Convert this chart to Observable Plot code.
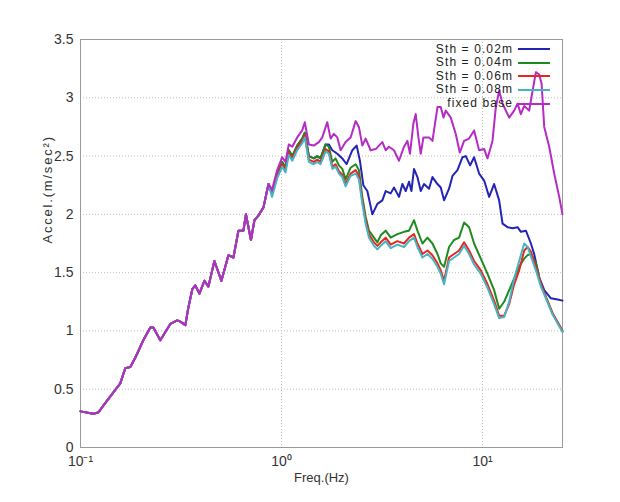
<!DOCTYPE html>
<html><head><meta charset="utf-8">
<script src="https://cdn.jsdelivr.net/npm/d3@7"></script>
<script src="https://cdn.jsdelivr.net/npm/@observablehq/plot@0.6"></script>
<style>
html,body{margin:0;padding:0;background:#fff;}
#wrap{position:relative;width:620px;height:502px;font-family:"Liberation Sans",Arial,sans-serif;}
#legend{position:absolute;left:380px;top:42.5px;width:175px;font-size:12px;letter-spacing:1.1px;color:#222;}
#legend .row{position:relative;height:13.6px;}
#legend .lbl{position:absolute;right:42px;top:0;display:block;height:13.6px;line-height:13.6px;white-space:nowrap;}
#legend .sw{position:absolute;left:138px;width:32px;top:50%;height:0;border-top:2px solid;transform:translateY(-1px);}
</style></head><body><div id="wrap"><div id="legend"></div></div>
<script>
// Shared low-frequency part (all five curves coincide)
const commonFreq = [0.1, 0.1157, 0.1225, 0.1327, 0.1455, 0.1577, 0.167, 0.1769, 0.1873, 0.2053, 0.2225, 0.2303, 0.2495, 0.2798, 0.3032, 0.3139, 0.3323, 0.344, 0.3602, 0.3727, 0.3904, 0.4134, 0.4328, 0.4636, 0.5024, 0.5445, 0.5765, 0.6106, 0.6465, 0.6653, 0.7047, 0.7336, 0.768, 0.8134, 0.8615];
const commonAccel = [0.31, 0.29, 0.30, 0.38, 0.47, 0.55, 0.68, 0.69, 0.77, 0.92, 1.03, 1.03, 0.92, 1.06, 1.09, 1.08, 1.05, 1.20, 1.36, 1.39, 1.32, 1.43, 1.38, 1.60, 1.43, 1.65, 1.63, 1.86, 1.86, 2.00, 1.78, 1.95, 1.99, 2.06, 2.26];

// Sth = 0.04m / 0.06m / 0.08m share a frequency grid
const groupFreq = [0.897, 0.952, 1.008, 1.047, 1.087, 1.131, 1.197, 1.268, 1.306, 1.368, 1.448, 1.506, 1.564, 1.657, 1.721, 1.789, 1.858, 1.930, 2.006, 2.084, 2.207, 2.338, 2.427, 2.524, 2.622, 2.723, 2.884, 2.999, 3.114, 3.298, 3.493, 3.771, 4.068, 4.309, 4.563, 4.745, 5.025, 5.322, 5.636, 5.969, 6.198, 6.437, 6.817, 7.219, 7.646, 8.097, 8.575, 9.082, 9.807, 10.59, 11.42, 12.10, 12.81, 13.57, 14.37, 15.22, 16.12, 16.76, 17.41, 18.43, 19.52, 20.68, 22.32, 24.08, 25];
const sth004 = [2.18, 2.35, 2.45, 2.40, 2.55, 2.50, 2.59, 2.65, 2.70, 2.50, 2.48, 2.50, 2.48, 2.60, 2.58, 2.45, 2.48, 2.42, 2.39, 2.30, 2.40, 2.43, 2.38, 2.15, 1.98, 1.86, 1.80, 1.76, 1.82, 1.86, 1.80, 1.83, 1.85, 1.86, 1.95, 1.86, 1.75, 1.80, 1.75, 1.66, 1.58, 1.55, 1.72, 1.78, 1.80, 1.93, 1.89, 1.75, 1.62, 1.49, 1.35, 1.19, 1.25, 1.35, 1.45, 1.55, 1.62, 1.65, 1.66, 1.58, 1.40, 1.29, 1.15, 1.05, 1.00];
const sth006 = [2.17, 2.33, 2.43, 2.38, 2.53, 2.48, 2.57, 2.63, 2.68, 2.47, 2.45, 2.47, 2.45, 2.56, 2.54, 2.41, 2.43, 2.37, 2.34, 2.26, 2.35, 2.38, 2.33, 2.12, 1.95, 1.83, 1.76, 1.73, 1.76, 1.80, 1.74, 1.77, 1.75, 1.80, 1.83, 1.75, 1.66, 1.69, 1.65, 1.58, 1.52, 1.43, 1.63, 1.66, 1.69, 1.76, 1.69, 1.60, 1.52, 1.40, 1.26, 1.13, 1.13, 1.23, 1.40, 1.52, 1.69, 1.72, 1.68, 1.55, 1.40, 1.29, 1.15, 1.05, 1.00];
const sth008 = [2.15, 2.31, 2.41, 2.36, 2.51, 2.46, 2.55, 2.61, 2.66, 2.45, 2.43, 2.45, 2.43, 2.54, 2.52, 2.39, 2.41, 2.35, 2.32, 2.24, 2.33, 2.35, 2.30, 2.09, 1.92, 1.80, 1.73, 1.70, 1.73, 1.77, 1.71, 1.74, 1.72, 1.77, 1.80, 1.72, 1.63, 1.66, 1.62, 1.55, 1.49, 1.40, 1.60, 1.63, 1.66, 1.73, 1.66, 1.57, 1.49, 1.37, 1.23, 1.11, 1.12, 1.25, 1.45, 1.60, 1.75, 1.72, 1.64, 1.52, 1.38, 1.28, 1.14, 1.04, 0.99];

// Sth = 0.02m
const sth002Freq = [0.897, 0.952, 1.008, 1.047, 1.087, 1.131, 1.197, 1.268, 1.306, 1.368, 1.448, 1.506, 1.564, 1.657, 1.721, 1.789, 1.895, 2.006, 2.108, 2.251, 2.365, 2.455, 2.553, 2.673, 2.831, 2.999, 3.175, 3.298, 3.493, 3.627, 3.841, 3.994, 4.149, 4.309, 4.429, 4.563, 4.745, 4.928, 5.118, 5.420, 5.636, 5.969, 6.198, 6.437, 6.817, 7.088, 7.507, 7.950, 8.257, 8.674, 9.082, 9.618, 10.19, 10.79, 11.42, 12.10, 12.58, 13.32, 14.11, 14.94, 15.52, 16.44, 17.41, 18.07, 19.14, 20.28, 21.89, 23.64, 25];
const sth002 = [2.18, 2.35, 2.45, 2.40, 2.55, 2.50, 2.59, 2.65, 2.70, 2.50, 2.48, 2.50, 2.48, 2.60, 2.60, 2.55, 2.52, 2.48, 2.43, 2.55, 2.59, 2.46, 2.25, 2.20, 2.00, 2.09, 2.12, 2.20, 2.18, 2.23, 2.15, 2.26, 2.20, 2.28, 2.20, 2.39, 2.32, 2.20, 2.26, 2.22, 2.32, 2.26, 2.23, 2.12, 2.22, 2.33, 2.38, 2.49, 2.50, 2.42, 2.49, 2.35, 2.29, 2.15, 2.26, 2.12, 1.92, 1.89, 1.88, 1.89, 1.85, 1.86, 1.75, 1.66, 1.46, 1.35, 1.28, 1.27, 1.26];

// fixed base
const fixedFreq = [0.897, 0.952, 1.008, 1.047, 1.087, 1.131, 1.197, 1.268, 1.306, 1.368, 1.448, 1.534, 1.595, 1.689, 1.755, 1.822, 1.895, 1.968, 2.084, 2.207, 2.338, 2.427, 2.524, 2.622, 2.776, 2.941, 3.054, 3.175, 3.298, 3.425, 3.627, 3.841, 4.068, 4.230, 4.358, 4.531, 4.653, 4.799, 4.928, 5.083, 5.420, 5.636, 5.969, 6.198, 6.393, 6.564, 6.951, 7.362, 7.708, 8.097, 8.575, 9.082, 9.618, 10.19, 10.59, 11.21, 11.65, 12.10, 12.58, 13.57, 14.37, 14.94, 15.52, 16.12, 17.07, 17.75, 18.43, 19.14, 19.68, 20.28, 21.47, 22.73, 24.08, 25];
const fixedBase = [2.21, 2.38, 2.49, 2.45, 2.60, 2.58, 2.66, 2.72, 2.79, 2.60, 2.59, 2.62, 2.66, 2.79, 2.65, 2.69, 2.66, 2.55, 2.62, 2.66, 2.80, 2.75, 2.59, 2.65, 2.55, 2.56, 2.59, 2.62, 2.55, 2.58, 2.55, 2.46, 2.58, 2.63, 2.52, 2.78, 2.86, 2.66, 2.52, 2.66, 2.66, 2.63, 2.92, 2.92, 2.83, 2.89, 2.83, 2.69, 2.53, 2.63, 2.65, 2.72, 2.55, 2.56, 2.48, 2.63, 2.92, 3.06, 2.95, 2.83, 2.89, 2.95, 2.86, 2.93, 2.89, 3.06, 3.22, 3.20, 3.12, 2.75, 2.58, 2.35, 2.15, 2.00];

const seriesNames = ["Sth = 0.02m", "Sth = 0.04m", "Sth = 0.06m", "Sth = 0.08m", "fixed base"];
const seriesColors = ["#2424b4", "#1f8a1f", "#e8261e", "#46b4c4", "#b42cc4"];
const xTicks = [0.1, 1, 10];
const xTickLabels = ["10\u207B\u00B9", "10\u2070", "10\u00B9"];
const yTicks = [0, 0.5, 1, 1.5, 2, 2.5, 3, 3.5];
const yTickLabels = ["0", "0.5", "1", "1.5", "2", "2.5", "3", "3.5"];
const xLabel = "Freq.(Hz)";
const yLabel = "Accel.(m/sec\u00B2)";

const seriesData = [
  [seriesNames[0], sth002Freq, sth002],
  [seriesNames[1], groupFreq, sth004],
  [seriesNames[2], groupFreq, sth006],
  [seriesNames[3], groupFreq, sth008],
  [seriesNames[4], fixedFreq, fixedBase]
];
const rows = seriesData.flatMap(([name, fq, ac]) =>
  commonFreq.concat(fq).map((f, i) => ({series: name, freq: f, accel: commonAccel.concat(ac)[i]})));

const chart = Plot.plot({
  width: 620, height: 502,
  marginLeft: 80, marginRight: 58, marginTop: 39, marginBottom: 55,
  style: {fontFamily: "'Liberation Sans', Arial, sans-serif", fontSize: "14px", color: "#333", background: "#fff"},
  x: {type: "log", domain: [0.1, 25]},
  y: {domain: [0, 3.5]},
  color: {domain: seriesNames, range: seriesColors},
  marks: [
    Plot.gridY(yTicks.slice(1, -1), {stroke: "#bdbdbd", strokeOpacity: 1, strokeDasharray: "1,2"}),
    Plot.gridX(xTicks.slice(1), {stroke: "#bdbdbd", strokeOpacity: 1, strokeDasharray: "1,2"}),
    Plot.axisX(xTicks, {tickSize: 0, tickPadding: 9, tickFormat: d => xTickLabels[xTicks.indexOf(d)], label: null, fontSize: 14}),
    Plot.axisY(yTicks, {tickSize: 0, tickPadding: 7, tickFormat: d => yTickLabels[yTicks.indexOf(d)], label: null, fontSize: 14}),
    Plot.text([xLabel], {frameAnchor: "bottom", dy: 34, fontSize: 13, fill: "#333"}),
    Plot.text([yLabel], {frameAnchor: "left", rotate: -90, dx: -33, fontSize: 13, fill: "#333"}),
    Plot.frame({stroke: "#9a9a9a"}),
    Plot.line(rows, {x: "freq", y: "accel", z: "series", stroke: "series", strokeWidth: 2})
  ]
});
document.getElementById("wrap").prepend(chart);
d3.select(chart).selectAll("text").filter(function() { return this.textContent === yLabel; })
  .attr("letter-spacing", "1.8px");

const legend = d3.select("#legend");
seriesNames.forEach((n, i) => {
  const r = legend.append("div").attr("class", "row");
  r.append("span").attr("class", "lbl").text(n);
  r.append("span").attr("class", "sw").style("border-color", seriesColors[i]);
});
</script>
</body></html>
